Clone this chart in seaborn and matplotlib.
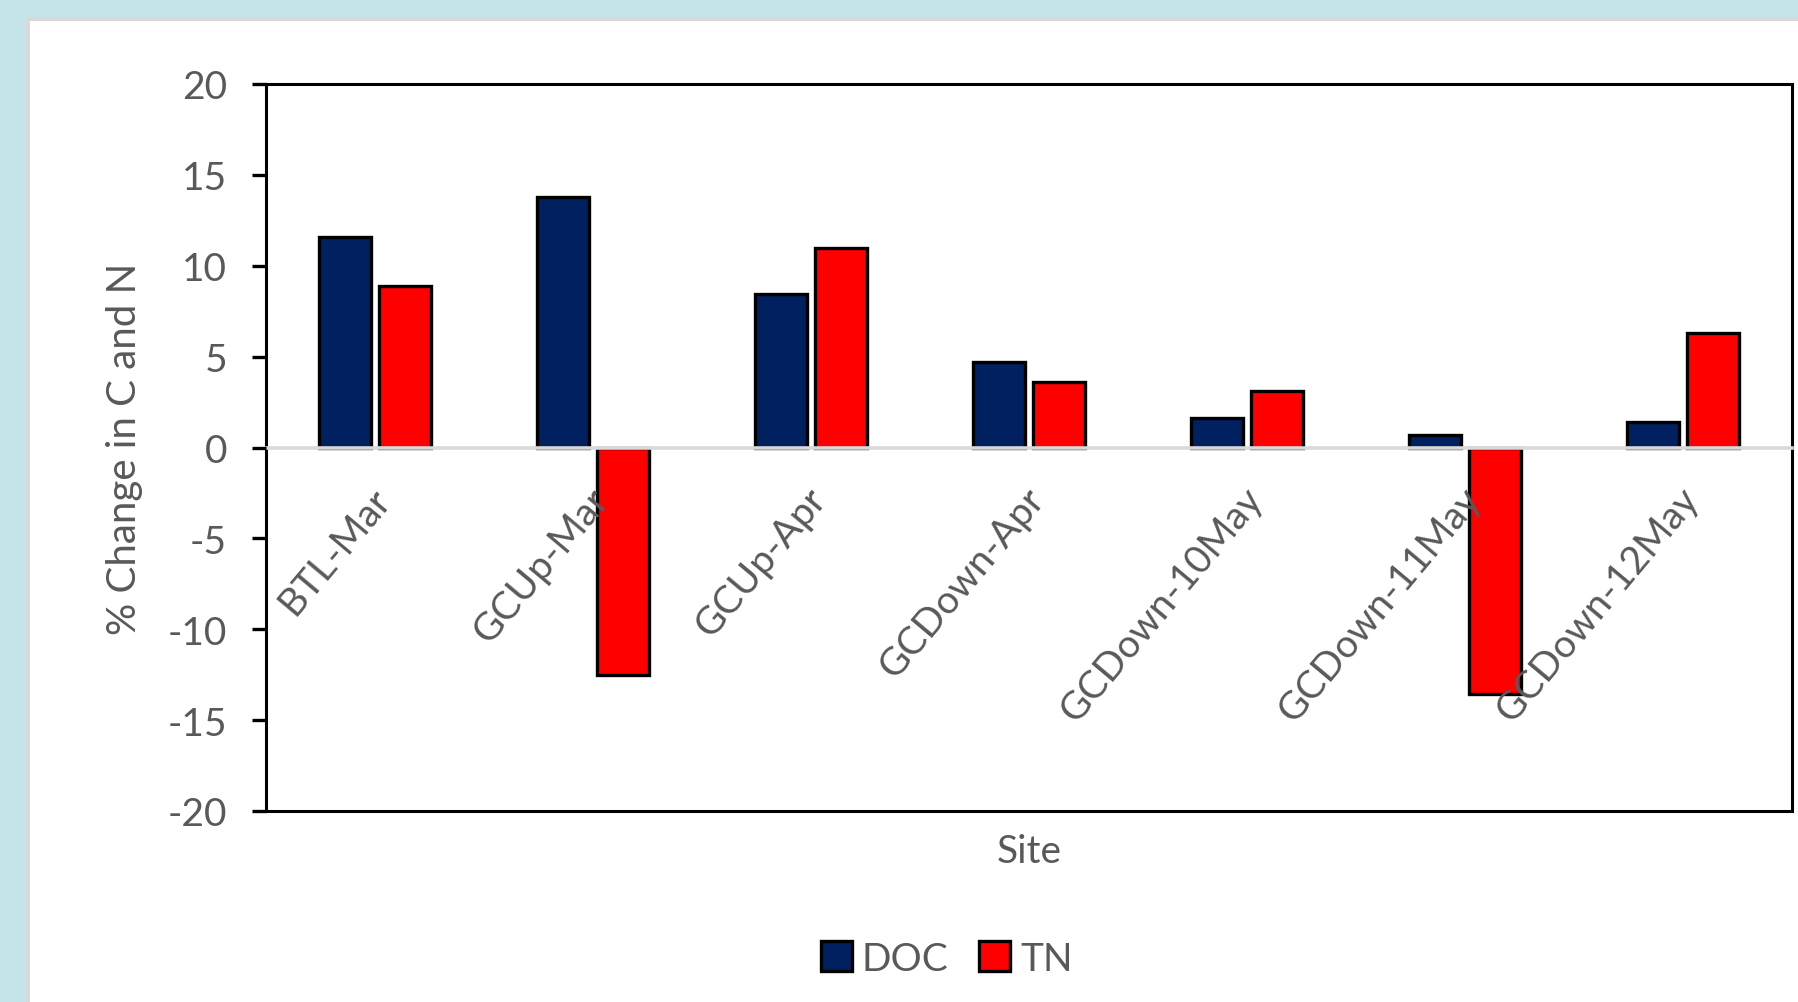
import pandas as pd
import seaborn as sns
import matplotlib.pyplot as plt
import matplotlib.transforms as mtransforms
from matplotlib.patches import Rectangle

sns.set_theme(style="white")
plt.rcParams['font.family'] = ['Lato', 'DejaVu Sans']
plt.rcParams['axes.unicode_minus'] = False

# --- data ---
sites = ['BTL-Mar', 'GCUp-Mar', 'GCUp-Apr', 'GCDown-Apr',
         'GCDown-10May', 'GCDown-11May', 'GCDown-12May']
doc_change = [11.6, 13.8, 8.45, 4.7, 1.65, 0.7, 1.4]
tn_change = [8.9, -12.5, 11.0, 3.6, 3.1, -13.55, 6.3]
series = ['DOC', 'TN']
y_ticks = [-20, -15, -10, -5, 0, 5, 10, 15, 20]

df = pd.DataFrame({
    'Site': sites * 2,
    'Change': doc_change + tn_change,
    'Param': [series[0]] * len(sites) + [series[1]] * len(sites),
})

text_grey = '#595959'
fs = 28
W, H = 1798, 1003
fig = plt.figure(figsize=(W / 100, H / 100), dpi=100, facecolor='#c5e4ea')

# white chart panel with the thin grey rim, like the slide frame
fig.patches.append(Rectangle((26 / W, 0), 1, 1 - 18 / H, transform=fig.transFigure,
                             facecolor='#d9d9d9', edgecolor='none', zorder=-2))
fig.patches.append(Rectangle((30 / W, 0), 1, 1 - 22 / H, transform=fig.transFigure,
                             facecolor='white', edgecolor='none', zorder=-1))

ax = fig.add_axes([266 / W, 1 - 812 / H, (1792 - 266) / W, (812 - 85) / H])
ax.set_facecolor('white')

sns.barplot(data=df, x='Site', y='Change', hue='Param', palette=['#002060', '#ff0000'],
            saturation=1, width=0.55, gap=0.12, edgecolor='black', linewidth=2.4, ax=ax)

ax.set_ylim(-20, 20)
ax.set_yticks(y_ticks)
ax.set_xlim(-0.5, len(sites) - 0.5)
ax.set_axisbelow(False)  # site names sit on top of the negative bars

# spines: box in black, the x axis itself sits at zero in light grey
for side in ['left', 'right', 'top']:
    ax.spines[side].set_color('black')
    ax.spines[side].set_linewidth(2.2)
ax.spines['bottom'].set_position(('data', 0))
ax.spines['bottom'].set_color('#d9d9d9')
ax.spines['bottom'].set_linewidth(2.6)
ax.axhline(-20, color='black', lw=2.2, clip_on=False, zorder=3)

ax.tick_params(axis='y', direction='out', length=10, width=2.4, color='black',
               pad=18, labelsize=fs, labelcolor=text_grey, left=True)
ax.tick_params(axis='x', length=0, pad=24, labelsize=fs, labelcolor=text_grey)

shift = mtransforms.ScaledTranslation(0.22, 0, fig.dpi_scale_trans)
for label in ax.get_xticklabels():
    label.set_rotation(50)
    label.set_ha('right')
    label.set_va('top')
    label.set_transform(label.get_transform() + shift)

ax.set_ylabel('% Change in C and N', fontsize=fs + 1, color=text_grey, labelpad=18)
ax.set_xlabel('Site', fontsize=fs, color=text_grey)
ax.xaxis.set_label_coords(0.5, -0.03)

sns.move_legend(ax, 'center', bbox_to_anchor=(0.446, -0.203), ncol=2, frameon=False,
                title=None, fontsize=fs, handlelength=0.8, handleheight=0.8,
                handletextpad=0.25, columnspacing=0.8, labelcolor=text_grey)

fig.savefig('out.png', dpi=100, facecolor=fig.get_facecolor())
